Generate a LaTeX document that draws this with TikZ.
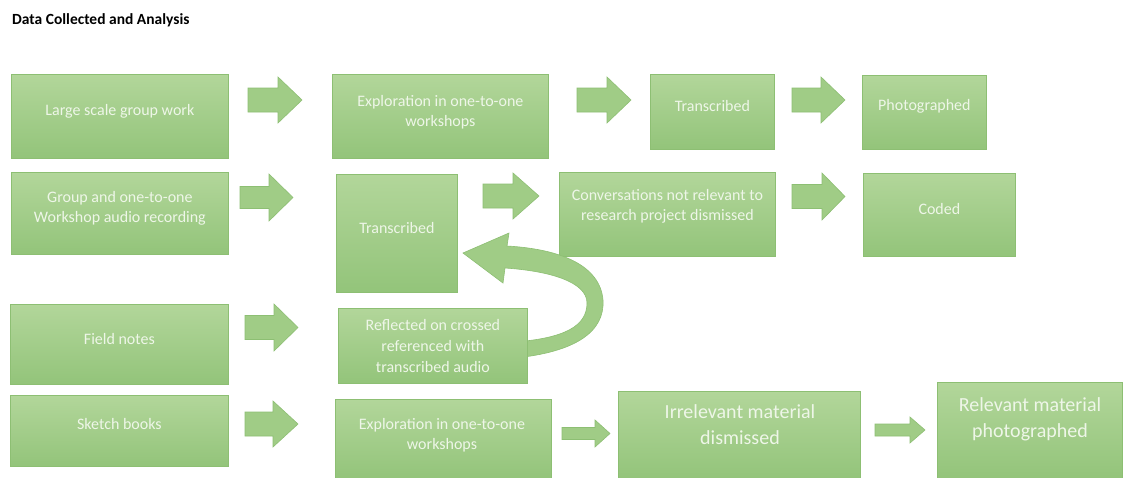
\documentclass[tikz,border=0pt]{standalone}
\usepackage{fontspec}
\setmainfont{Carlito}
\usetikzlibrary{positioning}
\definecolor{boxtop}{HTML}{B2D69A}
\definecolor{boxbot}{HTML}{93C47A}
\definecolor{boxline}{HTML}{8DBF73}
\definecolor{arrowfill}{HTML}{A0CC86}
\definecolor{txtcol}{HTML}{EEF6E8}
\tikzset{
  box/.style={draw=boxline, line width=0.8pt, top color=boxtop, bottom color=boxbot,
    rectangle, inner sep=0pt, anchor=north west},
  txt/.style={text=txtcol, align=center, font=\fontsize{16}{20}\selectfont, inner sep=0pt},
  bigtxt/.style={txt, font=\fontsize{20}{26}\selectfont},
  blockarrow/.style={fill=arrowfill, draw=boxline, line width=0.6pt, line join=miter},
}
% block arrow: x-start, x-end, y-top, y-bottom, x where head begins, shaft half-thickness
\newcommand{\blockarr}[6]{%
  \pgfmathsetmacro{\yc}{(#3+#4)/2}%
  \draw[blockarrow] (#1,\yc-#6) -- (#5,\yc-#6) -- (#5,#3) -- (#2,\yc) -- (#5,#4)
     -- (#5,\yc+#6) -- (#1,\yc+#6) -- cycle;}
\begin{document}
\begin{tikzpicture}[x=1pt,y=-1pt]
\useasboundingbox[fill=white] (0,0) rectangle (1125,477);

\node[anchor=west, font=\fontsize{15.5}{18}\selectfont\bfseries, inner sep=0pt] (title) at (12,20) {Data Collected and Analysis};

% ---- row 1
\node[box, minimum width=217pt, minimum height=84pt] (a1) at (11,74) {};
\node[txt] (a1t) at ([yshift=5pt]a1.center) {Large scale group work};
\node[box, minimum width=216pt, minimum height=84pt] (a2) at (332,74) {};
\node[txt] (a2t) at ([yshift=4pt]a2.center) {Exploration in one-to-one\\workshops};
\node[box, minimum width=124pt, minimum height=75pt] (a3) at (650,74) {};
\node[txt] (a3t) at ([yshift=6pt]a3.center) {Transcribed};
\node[box, minimum width=124pt, minimum height=74pt] (a4) at (862,75) {};
\node[txt] (a4t) at ([yshift=6pt]a4.center) {Photographed};
\blockarr{248}{302}{77}{123}{278}{12}
\blockarr{577}{631}{77}{123}{607}{12}
\blockarr{792}{845}{77}{123}{821}{12}

% ---- row 2
\node[box, minimum width=217pt, minimum height=82pt] (b1) at (11,172) {};
\node[txt] (b1t) at ([yshift=5pt]b1.center) {Group and one-to-one\\Workshop audio recording};
\node[box, minimum width=121pt, minimum height=118pt] (b2) at (336,174) {};
\node[txt] (b2t) at ([yshift=5pt]b2.center) {Transcribed};
\node[box, minimum width=216pt, minimum height=84pt] (b3) at (559,172) {};
\node[txt] (b3t) at ([yshift=8pt]b3.center) {Conversations not relevant to\\research project dismissed};
\node[box, minimum width=152pt, minimum height=83pt] (b4) at (863,173) {};
\node[txt] (b4t) at ([yshift=6pt]b4.center) {Coded};
\blockarr{240}{293}{174}{221}{269}{11}
\blockarr{483}{539}{173}{219}{513}{12}
\blockarr{792}{845}{173}{220}{822}{12}

% ---- row 3: curved arrow back to the transcript
\draw[blockarrow] (515,358) .. controls (575,352) and (605,332) .. (603,300)
  .. controls (600,265) and (560,249) .. (507,246)
  -- (509,233) -- (463,253) -- (503,283) -- (505,268)
  .. controls (550,271) and (587,282) .. (587,303)
  .. controls (587,326) and (565,338) .. (515,342) -- cycle;
\node[box, minimum width=218pt, minimum height=80pt] (c1) at (10,304) {};
\node[txt] (c1t) at ([yshift=5pt]c1.center) {Field notes};
\node[box, minimum width=189pt, minimum height=75pt] (c2) at (338,308) {};
\node[txt, font=\fontsize{16}{21}\selectfont] (c2t) at (c2.center) {Reflected on crossed\\referenced with\\transcribed audio};
\blockarr{245}{298}{304}{351}{274}{12}

% ---- row 4
\node[box, minimum width=218pt, minimum height=71pt] (d1) at (10,395) {};
\node[txt] (d1t) at ([yshift=7pt]d1.center) {Sketch books};
\node[box, minimum width=216pt, minimum height=80pt] (d2) at (335,399) {};
\node[txt] (d2t) at (442,435) {Exploration in one-to-one\\workshops};
\node[box, minimum width=242pt, minimum height=88pt] (d3) at (618,391) {};
\node[bigtxt] (d3t) at (740,425) {Irrelevant material\\dismissed};
\node[box, minimum width=185pt, minimum height=97pt] (d4) at (937,382) {};
\node[bigtxt] (d4t) at (1030,419) {Relevant material\\photographed};
\blockarr{245}{298}{401}{447}{273}{12}
\blockarr{562}{610}{420}{447}{595}{6}
\blockarr{875}{925}{417}{443}{910}{6}
\end{tikzpicture}
\end{document}
